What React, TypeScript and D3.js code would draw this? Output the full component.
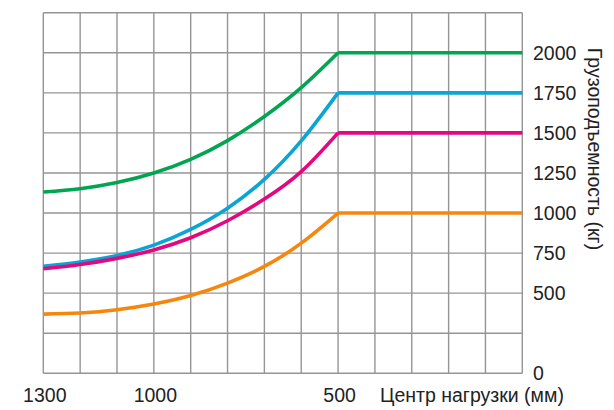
import React, { useRef, useEffect } from 'react';
import * as d3 from 'd3';

// load centre (mm), reversed on the axis
const loadCenters = [1300, 1200, 1100, 1000, 900, 800, 700, 600, 500, 0];
const green = [1131, 1152, 1190, 1250, 1335, 1452, 1602, 1782, 2000, 2000];
const blue = [668, 695, 735, 800, 898, 1030, 1210, 1450, 1750, 1750];
const pink = [652, 679, 717, 770, 846, 952, 1087, 1258, 1500, 1500];
const orange = [369, 376, 396, 432, 485, 563, 667, 812, 1000, 1000];

const xTickLabels = [1300, 1000, 500];
const yTickLabels = [0, 500, 750, 1000, 1250, 1500, 1750, 2000];

const seriesList = [
  { name: 'orange', values: orange, color: '#f5870f' },
  { name: 'blue', values: blue, color: '#0aa5d6' },
  { name: 'pink', values: pink, color: '#e3087f' },
  { name: 'green', values: green, color: '#00a552' },
];

const App: React.FC = () => {
  const chartRef = useRef<SVGSVGElement>(null);

  useEffect(() => {
    if (!chartRef.current) return;
    const svg = d3.select(chartRef.current);
    svg.selectAll('*').remove();

    const width = 614;
    const height = 410;
    const margin = { top: 12.7, right: 91.7, bottom: 36.7, left: 43.3 };

    const x = d3.scaleLinear()
      .domain([1300, 0])
      .range([margin.left, width - margin.right]);
    const y = d3.scaleLinear()
      .domain([0, 2250])
      .range([height - margin.bottom, margin.top]);

    const font = 'Liberation Sans, Arial, sans-serif';
    const fontSize = '19.5px';

    // grid
    const grid = svg.append('g')
      .attr('stroke', '#959595')
      .attr('stroke-width', 1.4);
    grid.selectAll('.vline')
      .data(d3.range(0, 1301, 100))
      .enter()
      .append('line')
      .attr('x1', d => x(d))
      .attr('x2', d => x(d))
      .attr('y1', y(0))
      .attr('y2', y(2250));
    grid.selectAll('.hline')
      .data(d3.range(0, 2251, 250))
      .enter()
      .append('line')
      .attr('x1', x(1300))
      .attr('x2', x(0))
      .attr('y1', d => y(d))
      .attr('y2', d => y(d));

    // curves: smooth part up to 500 mm, then flat
    const curved = d3.line<[number, number]>()
      .x(d => x(d[0]))
      .y(d => y(d[1]))
      .curve(d3.curveNatural);
    const straight = d3.line<[number, number]>()
      .x(d => x(d[0]))
      .y(d => y(d[1]));

    seriesList.forEach(s => {
      const pts = loadCenters.map((c, i) => [c, s.values[i]] as [number, number]);
      const n = pts.length;
      const p1 = curved(pts.slice(0, n - 1)) || '';
      const p2 = straight(pts.slice(n - 2)) || '';
      svg.append('path')
        .attr('d', p1 + p2)
        .attr('fill', 'none')
        .attr('stroke', s.color)
        .attr('stroke-width', 3.6)
        .attr('stroke-linejoin', 'round');
    });

    // x labels
    svg.selectAll('.xlab')
      .data(xTickLabels)
      .enter()
      .append('text')
      .attr('x', d => x(d) + 1.5)
      .attr('y', 402)
      .attr('text-anchor', 'middle')
      .style('font-family', font)
      .style('font-size', fontSize)
      .attr('fill', '#222')
      .text(d => d);

    svg.append('text')
      .attr('x', 380)
      .attr('y', 402)
      .style('font-family', font)
      .style('font-size', fontSize)
      .attr('fill', '#222')
      .text('Центр нагрузки (мм)');

    // y labels
    svg.selectAll('.ylab')
      .data(yTickLabels)
      .enter()
      .append('text')
      .attr('x', 533)
      .attr('y', d => y(d) + 7)
      .style('font-family', font)
      .style('font-size', fontSize)
      .attr('fill', '#222')
      .text(d => d);

    svg.append('text')
      .attr('transform', 'translate(588,149) rotate(90)')
      .attr('text-anchor', 'middle')
      .style('font-family', font)
      .style('font-size', fontSize)
      .attr('fill', '#222')
      .text('Грузоподъемность (кг)');
  }, []);

  return (
    <div style={{ position: 'absolute', left: 0, top: 0 }}>
      <svg ref={chartRef} width={614} height={410} style={{ display: 'block', background: '#fff' }} />
    </div>
  );
};

export default App;
